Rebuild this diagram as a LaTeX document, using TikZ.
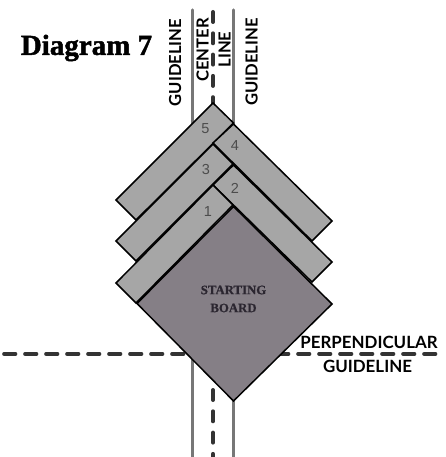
\documentclass[tikz,border=0pt]{standalone}
\usepackage{fontspec}
\setmainfont{Liberation Serif}
\newfontfamily\titlefont[FakeBold=1.6]{Liberation Serif Bold}
\newfontfamily\boardfont[FakeBold=0.8]{Liberation Serif Bold}
\newfontfamily\labelfont{Lato}
\newfontfamily\numfont{Liberation Sans}
\definecolor{stripgray}{HTML}{A6A6A6}
\definecolor{boardgray}{HTML}{857F86}
\definecolor{guidegray}{HTML}{777777}
\definecolor{dashdark}{HTML}{333333}
\definecolor{boardtext}{HTML}{2B2630}
\begin{document}
\begin{tikzpicture}[x=1pt,y=-1pt,
  guide/.style={draw=guidegray,line width=3.4pt,line cap=round},
  dashguide/.style={draw=dashdark,line width=4pt,line cap=round,dash pattern=on 10pt off 11.3pt},
  strip/.style={draw=black,fill=stripgray,line width=1.5pt,line join=miter},
  board/.style={draw=black,fill=boardgray,line width=1.5pt,line join=miter},
  vlabel/.style={font=\labelfont\bfseries\fontsize{16.6}{16.6}\selectfont,text=black,rotate=90,inner sep=0pt,anchor=center},
  hlabel/.style={font=\labelfont\bfseries\fontsize{16.9}{16.9}\selectfont,text=black,inner sep=0pt,anchor=center},
  num/.style={font=\numfont\fontsize{14.5}{14.5}\selectfont,text=black!70,inner sep=0pt,anchor=center},
  boardlabel/.style={font=\boardfont\fontsize{12.8}{12.8}\selectfont,text=boardtext,inner sep=0pt}]
\useasboundingbox (0,0) rectangle (445,457);
% guidelines
\coordinate (gla) at (192.5,10); \coordinate (glb) at (192.5,457);
\coordinate (gra) at (233.5,10); \coordinate (grb) at (233.5,457);
\coordinate (cla) at (213,12);  \coordinate (clb) at (213,108);
\coordinate (clc) at (213,390); \coordinate (cld) at (213,457);
\coordinate (pa) at (4,354);    \coordinate (pb) at (438,354);
\draw[guide] (gla) -- (glb);
\draw[guide] (gra) -- (grb);
\draw[dashguide] (cla) -- (clb);
\draw[dashguide] (clc) -- (cld);
\draw[dashguide,line width=3.6pt,dash pattern=on 11.5pt off 9.5pt] (pa) -- (pb);
% boards, back to front
\draw[strip] (213,103) -- (233.5,123) -- (136,220) -- (116,200) -- cycle;
\draw[strip] (233.5,124) -- (332,221) -- (312,241) -- (213,143) -- cycle;
\draw[strip] (213,144) -- (233,164) -- (136,261) -- (116,241) -- cycle;
\draw[strip] (233.5,165) -- (332,262) -- (312,282) -- (213,185) -- cycle;
\draw[strip] (213,185) -- (233,205) -- (136,303) -- (116,283) -- cycle;
\draw[board] (233.5,206.5) -- (332,304) -- (233.5,401) -- (137,303.5) -- cycle;
% numbers
\node[num] (n5) at (205.5,129) {5};
\node[num] (n4) at (235,146) {4};
\node[num] (n3) at (206,170) {3};
\node[num] (n2) at (235,188) {2};
\node[num] (n1) at (208,212) {1};
% labels
\node[vlabel] (lg) at (175,62.5) {GUIDELINE};
\node[vlabel] (lc) at (202.5,50) {CENTER};
\node[vlabel] (ll) at (224.5,49.5) {LINE};
\node[vlabel] (rg) at (251.5,62) {GUIDELINE};
\node[hlabel] (pl) at (369,342.5) {PERPENDICULAR};
\node[hlabel] (gl) at (367.5,366) {GUIDELINE};
\node[boardlabel] (sb1) at (233.5,290) {STARTING};
\node[boardlabel] (sb2) at (233.5,308) {BOARD};
\node[font=\titlefont\fontsize{29}{29}\selectfont,text=black,inner sep=0pt] (title) at (86.5,48) {Diagram 7};
\end{tikzpicture}
\end{document}
